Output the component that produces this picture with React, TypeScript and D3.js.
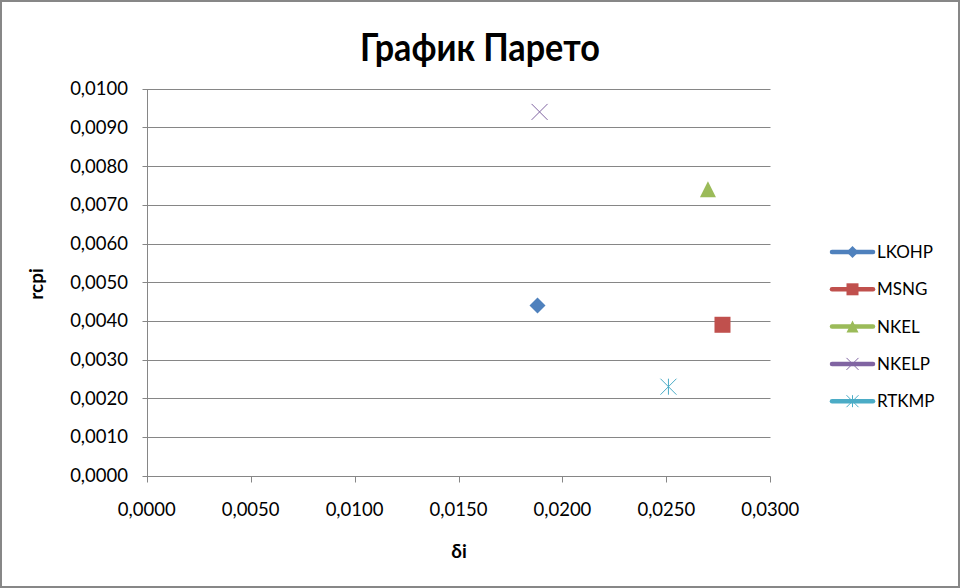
import React from "react";
import * as d3 from "d3";

const seriesNames = ["LKOHP", "MSNG", "NKEL", "NKELP", "RTKMP"];
const xValues = [0.0188, 0.0277, 0.027, 0.0189, 0.0251];
const yValues = [0.0044, 0.0039, 0.0074, 0.0094, 0.0023];
const markerKinds = ["diamond", "square", "triangle", "x", "star"];
const colors = ["#4F81BD", "#C0504D", "#9BBB59", "#8064A2", "#4BACC6"];
const xTickValues = [0, 0.005, 0.01, 0.015, 0.02, 0.025, 0.03];
const yTickValues = [0, 0.001, 0.002, 0.003, 0.004, 0.005, 0.006, 0.007, 0.008, 0.009, 0.01];

const W = 960;
const H = 588;
const FONT = "Lato, 'Open Sans', sans-serif";
const fmt = (v: number) => d3.format(".4f")(v).replace(".", ",");

function Marker({ kind, x, y, s, color }: { kind: string; x: number; y: number; s: number; color: string }) {
  const h = s / 2;
  if (kind === "diamond") {
    return <path d={`M${x},${y - h}L${x + h},${y}L${x},${y + h}L${x - h},${y}Z`} fill={color} />;
  }
  if (kind === "square") {
    return <rect x={x - h} y={y - h} width={s} height={s} fill={color} />;
  }
  if (kind === "triangle") {
    return <path d={`M${x},${y - h}L${x + h},${y + h}L${x - h},${y + h}Z`} fill={color} />;
  }
  if (kind === "x") {
    return (
      <path d={`M${x - h},${y - h}L${x + h},${y + h}M${x + h},${y - h}L${x - h},${y + h}`} stroke={color} strokeWidth={1} fill="none" />
    );
  }
  return (
    <path
      d={`M${x - h},${y - h}L${x + h},${y + h}M${x + h},${y - h}L${x - h},${y + h}M${x},${y - h}L${x},${y + h}`}
      stroke={color}
      strokeWidth={1}
      fill="none"
    />
  );
}

export default function App() {
  const x = d3.scaleLinear().domain([0, 0.03]).range([146.7, 770.3]);
  const y = d3.scaleLinear().domain([0, 0.01]).range([475.7, 88.7]);
  const px = (v: number) => Math.round(v) + 0.5;
  const axisColor = "#868686";
  const left = px(x(0));
  const right = px(x(0.03));
  const bottom = px(y(0));

  return (
    <svg width={W} height={H} style={{ position: "absolute", left: 0, top: 0 }} fontFamily={FONT}>
      <rect x={1} y={1} width={W - 2} height={H - 2} fill="#fff" stroke="#878787" strokeWidth={2} />
      <text x={480} y={61} textAnchor="middle" fontSize={38} fontWeight="bold" fill="#000" textLength={240} lengthAdjust="spacingAndGlyphs">
        График Парето
      </text>
      {yTickValues.map((v) => (
        <g key={"y" + v}>
          <line x1={left - 5} x2={right} y1={px(y(v))} y2={px(y(v))} stroke={axisColor} strokeWidth={1} />
          <text x={128} y={y(v)} dy="0.35em" textAnchor="end" fontSize={18.5} fill="#000">
            {fmt(v)}
          </text>
        </g>
      ))}
      <line x1={left} x2={left} y1={px(y(0.01))} y2={bottom} stroke={axisColor} strokeWidth={1} />
      {xTickValues.map((v) => (
        <g key={"x" + v}>
          <line x1={px(x(v))} x2={px(x(v))} y1={bottom} y2={bottom + 6} stroke={axisColor} strokeWidth={1} />
          <text x={x(v)} y={510} dy="0.35em" textAnchor="middle" fontSize={18.5} fill="#000">
            {fmt(v)}
          </text>
        </g>
      ))}
      <text x={459} y={558} textAnchor="middle" fontSize={19} fontWeight="bold" fill="#000">
        δi
      </text>
      <text transform="translate(43,284) rotate(-90)" textAnchor="middle" fontSize={19} fontWeight="bold" fill="#000">
        rcpi
      </text>
      {seriesNames.map((name, i) => (
        <Marker key={name} kind={markerKinds[i]} x={x(xValues[i])} y={y(yValues[i])} s={16} color={colors[i]} />
      ))}
      {seriesNames.map((name, i) => {
        const ly = 252 + i * 37.3;
        return (
          <g key={"l" + name}>
            <line x1={832} x2={873} y1={ly} y2={ly} stroke={colors[i]} strokeWidth={4.5} strokeLinecap="round" />
            <Marker kind={markerKinds[i]} x={852.5} y={ly} s={12} color={colors[i]} />
            <text x={877} y={ly} dy="0.35em" fontSize={17} fill="#000">
              {name}
            </text>
          </g>
        );
      })}
    </svg>
  );
}
